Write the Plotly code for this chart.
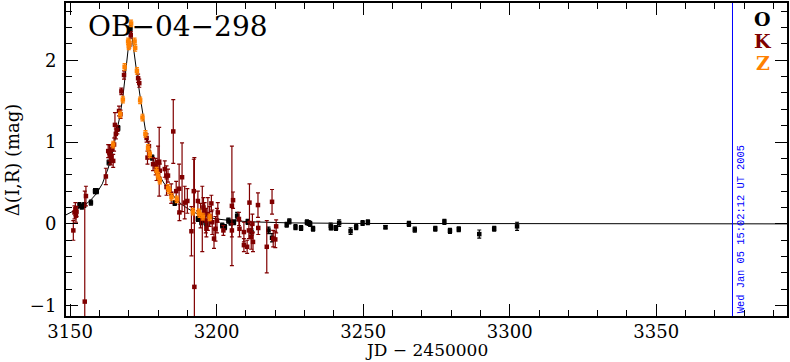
import plotly.graph_objects as go

# ---------------- data ----------------
o_t = [3153.2, 3154.0, 3154.8, 3157.1, 3158.5, 3159.1, 3163.2, 3166.4, 3170.6, 3178.0,
       3185.7, 3193.6, 3194.2, 3194.8, 3195.3, 3196.5, 3201.9, 3202.8, 3204.0, 3204.8,
       3205.9, 3207.0, 3210.6, 3211.9, 3217.7, 3218.9, 3223.9, 3224.8, 3226.9, 3228.8,
       3230.8, 3231.4, 3231.9, 3232.9, 3238.9, 3239.1, 3240.7, 3241.8, 3245.7, 3247.6,
       3249.8, 3251.6, 3257.6, 3265.6, 3267.6, 3274.6, 3277.7, 3279.6, 3282.6, 3289.6,
       3294.7, 3302.5]
o_mag = [0.23, 0.21, 0.23, 0.26, 0.40, 0.40, 0.75, 1.17, 2.39, 0.81,
         0.255, 0.06, 0.08, 0.02, 0.05, 0.00, -0.02, -0.04, 0.04, 0.015,
         0.02, 0.10, 0.025, -0.10, -0.08, -0.17, -0.01, 0.03, -0.04, -0.05,
         0.02, 0.01, 0.00, -0.06, -0.03, -0.045, -0.05, 0.01, -0.09, -0.04,
         0.01, 0.02, -0.04, 0.00, -0.07, -0.06, 0.025, -0.085, -0.065, -0.125,
         -0.06, -0.03]
o_err = [0.03, 0.03, 0.03, 0.03, 0.03, 0.03, 0.03, 0.03, 0.03, 0.03,
         0.03, 0.03, 0.03, 0.03, 0.03, 0.03, 0.03, 0.03, 0.03, 0.03,
         0.03, 0.04, 0.03, 0.04, 0.04, 0.05, 0.03, 0.03, 0.03, 0.03,
         0.03, 0.03, 0.03, 0.03, 0.04, 0.03, 0.03, 0.04, 0.04, 0.03,
         0.03, 0.03, 0.02, 0.03, 0.03, 0.03, 0.03, 0.03, 0.03, 0.05,
         0.03, 0.05]

k_t = [3151.1, 3151.5, 3151.8, 3152.0, 3152.2, 3155.0, 3155.4, 3162.2, 3163.0, 3163.4,
       3163.6, 3164.0, 3164.2, 3164.7, 3165.0, 3165.3, 3165.6, 3166.1, 3166.7, 3167.2,
       3167.5, 3168.4, 3170.2, 3170.7, 3173.2, 3173.6, 3176.1, 3176.4, 3176.9, 3178.3,
       3179.2, 3179.5, 3180.0, 3180.4, 3180.6, 3182.3, 3182.9, 3182.9, 3183.4, 3184.5,
       3185.2, 3186.2, 3187.2, 3187.3, 3188.2, 3189.1, 3190.0, 3191.4, 3192.2, 3192.4,
       3193.6, 3194.5, 3195.1, 3195.5, 3195.9, 3196.3, 3196.5, 3197.0, 3197.6, 3198.2,
       3198.5, 3199.1, 3199.6, 3200.1, 3200.4, 3202.3, 3205.2, 3205.6, 3205.2, 3207.6,
       3207.8, 3209.3, 3209.3, 3210.4, 3211.2, 3211.0, 3211.8, 3212.2, 3212.4, 3214.1,
       3214.2, 3217.1, 3218.9, 3219.3, 3220.0, 3220.3]
k_mag = [-0.08, 0.14, 0.18, 0.10, 0.15, -0.95, 0.34, 0.58, 0.89, 0.87,
         0.85, 0.82, 0.91, 0.77, 0.97, 1.21, 1.10, 1.15, 1.38, 1.34,
         1.62, 1.82, 2.19, 2.31, 1.78, 1.72, 1.05, 0.81, 0.95, 0.73,
         0.70, 0.65, 0.75, 0.76, 0.65, 0.67, 0.59, 0.45, 0.59, 0.37,
         1.13, 0.40, 0.43, 0.14, 0.57, 0.26, 0.28, -0.09, 0.40, -0.77,
         0.28, 0.10, 0.06, 0.20, 0.16, 0.04, -0.06, 0.12, 0.09, 0.25,
         0.02, -0.18, -0.06, 0.04, 0.14, -0.08, 0.22, 0.29, -0.08, 0.06,
         -0.06, -0.10, -0.26, -0.28, 0.26, -0.08, -0.16, 0.00, -0.22, 0.23,
         -0.05, -0.28, 0.27, -0.18, -0.19, -0.03]
k_err = [0.12, 0.08, 0.08, 0.08, 0.06, 1.35, 0.12, 0.10, 0.08, 0.10,
         0.12, 0.10, 0.06, 0.08, 0.08, 0.15, 0.06, 0.05, 0.06, 0.05,
         0.04, 0.05, 0.04, 0.04, 0.05, 0.05, 0.05, 0.08, 0.06, 0.08,
         0.10, 0.12, 0.20, 0.42, 0.08, 0.10, 0.12, 0.10, 0.08, 0.12,
         0.39, 0.12, 0.30, 0.10, 0.42, 0.20, 0.15, 0.30, 0.39, 1.58,
         0.12, 0.15, 0.40, 0.12, 0.10, 0.15, 0.10, 0.20, 0.12, 0.10,
         0.15, 0.12, 0.15, 0.15, 0.12, 0.06, 0.73, 0.10, 0.08, 0.08,
         0.10, 0.12, 0.08, 0.08, 0.23, 0.10, 0.15, 0.12, 0.12, 0.15,
         0.08, 0.32, 0.15, 0.10, 0.10, 0.08]

z_t = [3164.7, 3167.1, 3168.0, 3168.6, 3169.8, 3170.0, 3170.2, 3170.8, 3172.0, 3172.2,
       3172.8, 3173.9, 3174.7, 3175.7, 3176.6, 3177.2, 3179.5, 3180.0, 3180.6, 3183.4,
       3183.8, 3184.6, 3186.4, 3191.9, 3193.9, 3194.2, 3195.3, 3197.6]
z_mag = [0.97, 1.34, 1.52, 1.92, 2.23, 2.17, 2.21, 2.45, 2.23, 2.15,
         1.87, 1.51, 1.30, 1.10, 0.93, 0.85, 0.65, 0.59, 0.53, 0.44,
         0.41, 0.33, 0.30, 0.15, 0.14, 0.12, 0.09, 0.08]
z_err = [0.04] * len(z_t)

model_t = [3148.6, 3152.0, 3155.0, 3157.0, 3159.0, 3161.0, 3163.0, 3164.5, 3166.0, 3167.0,
           3168.0, 3169.0, 3170.0, 3170.6, 3171.2, 3172.0, 3173.0, 3174.0, 3175.0, 3176.0,
           3177.0, 3178.0, 3180.0, 3182.0, 3184.0, 3186.0, 3188.0, 3190.0, 3193.0, 3196.0,
           3200.0, 3205.0, 3212.0, 3225.0, 3250.0, 3300.0, 3394.6]
model_mag = [0.11, 0.17, 0.23, 0.29, 0.37, 0.49, 0.68, 0.88, 1.12, 1.32,
             1.55, 1.84, 2.20, 2.43, 2.25, 2.02, 1.78, 1.53, 1.30, 1.08,
             0.93, 0.82, 0.62, 0.50, 0.40, 0.31, 0.24, 0.19, 0.13, 0.09,
             0.06, 0.04, 0.025, 0.012, 0.005, 0.002, 0.0]

x_ticks = [3150, 3200, 3250, 3300, 3350]
y_ticks = [-1, 0, 1, 2]
now_t = 3376.0
now_label = "Wed Jan 05 15:02:12 UT 2005"
title_text = "OB\u221204\u2212298"
series_names = ["O", "K", "Z"]
series_colors = ["#000000", "#800000", "#ff8000"]

# ---------------- figure ----------------
fig = go.Figure()
fig.add_trace(go.Scatter(x=model_t, y=model_mag, mode="lines",
                         line=dict(color="black", width=1), showlegend=False,
                         hoverinfo="skip"))

for name, t, m, e, c in [("O", o_t, o_mag, o_err, series_colors[0]),
                         ("K", k_t, k_mag, k_err, series_colors[1]),
                         ("Z", z_t, z_mag, z_err, series_colors[2])]:
    fig.add_trace(go.Scatter(
        x=t, y=m, mode="markers", name=name, showlegend=False,
        marker=dict(symbol="square", size=4.5, color=c, line=dict(width=0)),
        error_y=dict(type="data", array=e, visible=True, color=c,
                     thickness=1.2, width=2)))

fig.add_shape(type="line", x0=now_t, x1=now_t, xref="x", y0=0, y1=1, yref="paper",
              line=dict(color="#0000ff", width=1))

fig.add_annotation(x=now_t + 2.8, y=-0.07, xref="x", yref="y", text=now_label,
                   textangle=-90, showarrow=False, xanchor="center", yanchor="middle",
                   font=dict(family="Liberation Mono", size=10.4, color="#0000ff"))

fig.add_annotation(x=3155.4, y=2.41, xref="x", yref="y", text=title_text,
                   showarrow=False, xanchor="left", yanchor="middle",
                   font=dict(family="DejaVu Serif", size=28, color="black"))

for i, (nm, col) in enumerate(zip(series_names, series_colors)):
    fig.add_annotation(x=3386.4, y=[2.507, 2.23, 1.97][i], xref="x", yref="y",
                       text="<b>%s</b>" % nm, showarrow=False,
                       xanchor="center", yanchor="middle",
                       font=dict(family="DejaVu Serif", size=19, color=col))

fig.add_annotation(x=0.5, y=-0.146, xref="paper", yref="paper",
                   text="JD \u2212 2450000", showarrow=False,
                   xanchor="center", yanchor="bottom",
                   font=dict(family="DejaVu Serif", size=17, color="black"))
fig.add_annotation(x=-0.074, y=0.5, xref="paper", yref="paper",
                   text="\u0394(I,R) (mag)", showarrow=False, textangle=-90,
                   xanchor="center", yanchor="middle",
                   font=dict(family="DejaVu Serif", size=18, color="black"))

axis_common = dict(showline=True, linecolor="black", linewidth=2, mirror="ticks",
                   ticks="inside", ticklen=12, tickwidth=1, tickcolor="black",
                   showgrid=False, zeroline=False,
                   tickfont=dict(family="DejaVu Serif", size=18, color="black"))

fig.update_xaxes(range=[3148.6, 3394.6], tickvals=x_ticks, ticklabelstandoff=-2,
                 minor=dict(dtick=10, tick0=3150, ticks="inside", ticklen=6,
                            tickwidth=1, tickcolor="black", showgrid=False),
                 **axis_common)
fig.update_yaxes(range=[-1.126, 2.70], tickvals=y_ticks, ticklabelstandoff=4,
                 minor=dict(dtick=0.2, tick0=0, ticks="inside", ticklen=6,
                            tickwidth=1, tickcolor="black", showgrid=False),
                 **axis_common)

fig.update_layout(width=790, height=362, margin=dict(l=66, r=2, t=1, b=46),
                  plot_bgcolor="white", paper_bgcolor="white", showlegend=False)

fig.write_html("out.html", config={"displayModeBar": False},
               post_script="document.body.style.margin='0';"
                           "document.body.style.overflow='hidden';")
